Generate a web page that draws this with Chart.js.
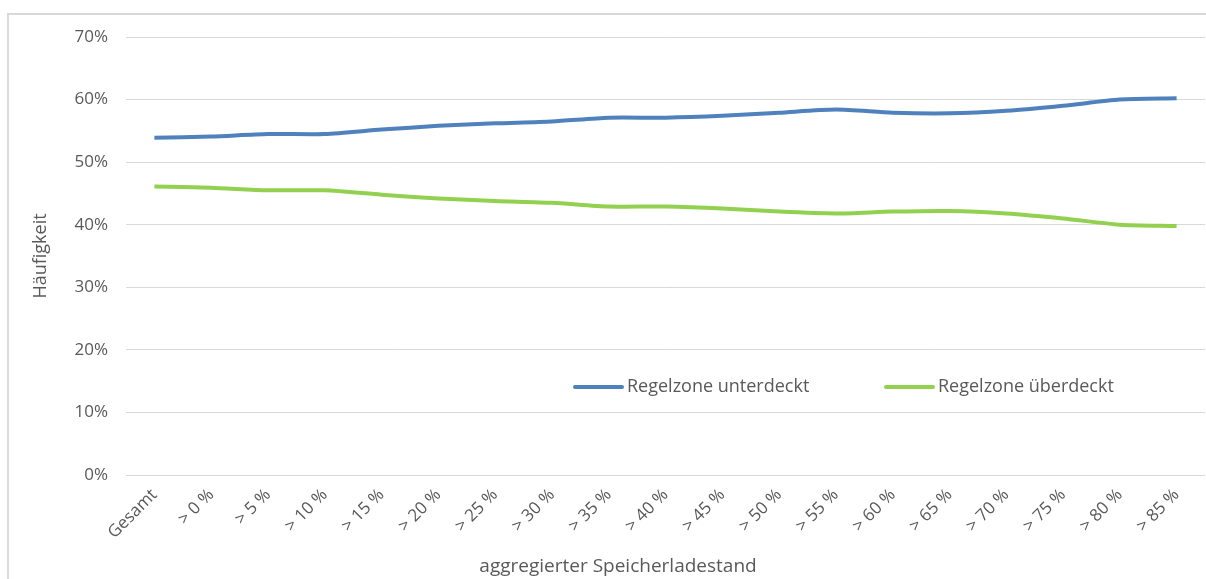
<!DOCTYPE html>
<html lang="de">
<head>
  <meta charset="UTF-8">
  <title>Häufigkeit nach Speicherladestand</title>
  <script src="https://cdn.jsdelivr.net/npm/chart.js"></script>
  <style>
    html, body { margin: 0; padding: 0; background: #fff; }
    #wrap { position: relative; width: 1206px; height: 579px; }
  </style>
</head>
<body>
  <div id="wrap"><canvas id="chart"></canvas></div>
  <script>
    // Kategorien und Werte (in %)
    const categories = ['Gesamt', '> 0 %', '> 5 %', '> 10 %', '> 15 %', '> 20 %', '> 25 %', '> 30 %', '> 35 %', '> 40 %',
      '> 45 %', '> 50 %', '> 55 %', '> 60 %', '> 65 %', '> 70 %', '> 75 %', '> 80 %', '> 85 %'];
    const unterdeckt = [53.9, 54.1, 54.5, 54.5, 55.2, 55.8, 56.2, 56.5, 57.1, 57.1, 57.4, 57.9, 58.4, 57.9, 57.8, 58.2, 59.0, 60.0, 60.2];
    const ueberdeckt = [46.1, 45.9, 45.5, 45.5, 44.8, 44.2, 43.8, 43.5, 42.9, 42.9, 42.6, 42.1, 41.8, 42.1, 42.2, 41.8, 41.0, 40.0, 39.8];
    const yTicks = [0, 10, 20, 30, 40, 50, 60, 70];

    const FONT = '"Open Sans", Lato, sans-serif';
    const GREY = '#595959';

    // Rahmen, Legende im Diagramm und Achsentitel unten
    const extras = {
      id: 'extras',
      beforeDraw(chart) {
        const ctx = chart.ctx;
        ctx.save();
        ctx.strokeStyle = '#d9d9d9';
        ctx.lineWidth = 2;
        ctx.strokeRect(8, 14, 1400, 800);
        ctx.restore();
      },
      afterDraw(chart) {
        const ctx = chart.ctx;
        ctx.save();
        ctx.font = '18px ' + FONT;
        ctx.textBaseline = 'middle';
        const items = [[575, 0], [886, 1]];
        items.forEach(([x, i]) => {
          const ds = chart.data.datasets[i];
          ctx.strokeStyle = ds.borderColor;
          ctx.lineWidth = 4;
          ctx.lineCap = 'round';
          ctx.beginPath();
          ctx.moveTo(x, 387);
          ctx.lineTo(x + 47, 387);
          ctx.stroke();
          ctx.fillStyle = GREY;
          ctx.textAlign = 'left';
          ctx.fillText(ds.label, x + 52, 387);
        });
        ctx.font = '19px ' + FONT;
        ctx.textAlign = 'center';
        ctx.fillText('aggregierter Speicherladestand', 618, 567);
        ctx.restore();
      }
    };

    new Chart(document.getElementById('chart'), {
      type: 'line',
      data: {
        labels: categories,
        datasets: [
          { label: 'Regelzone unterdeckt', data: unterdeckt, borderColor: '#4f81bd', borderWidth: 4, pointRadius: 0, tension: 0.25, fill: false },
          { label: 'Regelzone überdeckt', data: ueberdeckt, borderColor: '#92d050', borderWidth: 4, pointRadius: 0, tension: 0.25, fill: false }
        ]
      },
      options: {
        responsive: true,
        maintainAspectRatio: false,
        animation: false,
        layout: { padding: { top: 37, right: 1, left: 30, bottom: 0 } },
        plugins: { legend: { display: false }, tooltip: { enabled: false } },
        scales: {
          x: {
            offset: true,
            grid: { display: false },
            border: { display: false },
            ticks: { color: GREY, font: { family: FONT, size: 17 }, minRotation: 45, maxRotation: 45, autoSkip: false, padding: 2 },
            afterFit(scale) { scale.height = 104; }
          },
          y: {
            min: 0, max: 70,
            afterBuildTicks(scale) { scale.ticks = yTicks.map(v => ({ value: v })); },
            grid: { color: '#d9d9d9', lineWidth: 1, drawTicks: false },
            border: { display: false },
            ticks: { color: GREY, font: { family: FONT, size: 17 }, padding: 18, callback: v => v + '%' },
            title: { display: true, text: 'Häufigkeit', color: GREY, font: { family: FONT, size: 18 }, padding: 0 },
            afterFit(scale) { scale.width = 96; }
          }
        }
      },
      plugins: [extras]
    });
  </script>
</body>
</html>
